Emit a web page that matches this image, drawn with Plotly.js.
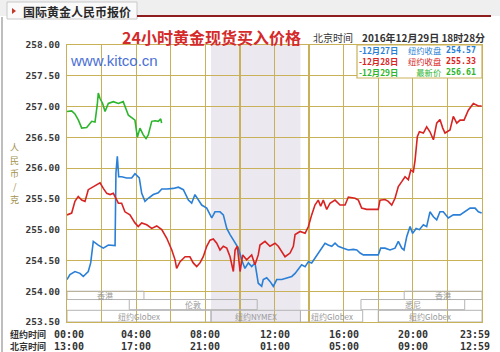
<!DOCTYPE html>
<html>
<head>
<meta charset="utf-8">
<script src="https://cdn.plot.ly/plotly-3.0.1.min.js"></script>
<style>html,body{margin:0;padding:0;background:#fff;}#chart{width:500px;height:352px;}</style>
</head>
<body>
<div id="chart"></div>
<script>
// ---------------- DATA ----------------
// hours in New York time (0 = 00:00 NY = 13:00 Beijing)
const blueName = '12月27日';
const blueHours = [0,0.17,0.46,0.75,0.94,1.23,1.37,1.52,1.81,2.10,2.39,2.68,2.78,2.83,2.91,2.99,3.16,3.45,3.74,3.93,4.18,4.32,4.51,4.70,4.99,5.28,5.48,5.77,6.15,6.44,6.73,7.02,7.21,7.40,7.59,7.79,8.08,8.37,8.56,8.85,9.04,9.24,9.43,9.72,9.91,10.10,10.29,10.49,10.68,10.87,11.06,11.26,11.35,11.55,11.74,11.93,12.13,12.42,12.71,13.00,13.19,13.38,13.57,13.77,13.96,14.15,14.34,14.53,14.73,14.92,15.11,15.31,15.50,15.69,15.98,16.27,16.56,16.76,16.95,17.14,18.00,18.14,18.39,18.68,18.97,19.16,19.36,19.49,19.65,19.84,19.99,20.19,20.38,20.61,20.80,20.99,21.19,21.38,21.57,21.76,22.05,22.34,22.73,23.02,23.31,23.60,23.79,23.98];
const blueValues = [254.19,254.27,254.32,254.29,254.24,254.32,254.46,254.81,254.75,254.70,254.75,254.74,254.74,255.92,256.19,255.86,255.86,255.84,255.84,255.91,255.84,255.59,255.46,255.51,255.57,255.60,255.66,255.66,255.67,255.69,255.65,255.48,255.43,255.57,255.48,255.40,255.35,255.19,255.29,255.29,255.24,255.02,254.92,254.78,254.70,254.51,254.37,254.46,254.40,254.46,254.13,254.08,254.19,254.22,254.16,254.08,254.19,254.19,254.21,254.24,254.29,254.37,254.43,254.40,254.48,254.46,254.54,254.62,254.70,254.78,254.75,254.73,254.78,254.73,254.70,254.67,254.68,254.67,254.62,254.59,254.59,254.70,254.70,254.67,254.70,254.81,254.70,254.67,254.89,255.05,254.94,255.02,255.00,255.08,255.05,255.29,255.21,255.16,255.29,255.29,255.19,255.24,255.24,255.29,255.35,255.35,255.29,255.27];

const redName = '12月28日';
const redHours = [0,0.27,0.46,0.65,0.85,1.04,1.23,1.52,1.72,1.91,2.10,2.30,2.49,2.68,2.83,2.97,3.16,3.35,3.64,3.93,4.12,4.32,4.61,4.90,5.19,5.48,5.77,6.06,6.25,6.34,6.54,6.83,7.11,7.30,7.50,7.69,7.88,8.08,8.27,8.46,8.66,8.85,9.04,9.24,9.43,9.62,9.72,9.85,10.01,10.16,10.39,10.68,10.87,11.06,11.16,11.45,11.74,12.03,12.22,12.42,12.61,12.90,13.09,13.19,13.48,13.77,13.96,14.15,14.34,14.53,14.67,14.82,15.02,15.21,15.50,15.79,16.08,16.27,16.66,16.85,17.04,17.33,18.00,18.10,18.39,18.58,18.78,18.97,19.16,19.36,19.55,19.74,19.88,20.03,20.13,20.26,20.38,20.61,20.80,20.99,21.19,21.38,21.57,21.73,21.86,22.15,22.34,22.54,22.73,22.96,23.21,23.50,23.79,23.98];
const redValues = [255.24,255.27,255.46,255.54,255.48,255.46,255.65,255.70,255.73,255.76,255.67,255.59,255.57,255.59,255.51,255.43,255.43,255.29,255.24,255.11,255.05,255.11,255.08,255.02,255.06,255.00,254.86,254.67,254.51,254.37,254.48,254.56,254.56,254.46,254.40,254.46,254.56,254.73,254.83,254.85,254.78,254.67,254.73,254.70,254.56,254.32,254.67,254.73,254.32,254.59,254.51,254.59,254.43,254.59,254.75,254.81,254.73,254.78,254.73,254.65,254.56,254.62,254.73,254.92,254.97,254.94,255.05,255.24,255.40,255.48,255.38,255.48,255.33,255.43,255.48,255.40,255.40,255.53,255.51,255.48,255.35,255.33,255.33,255.48,255.49,255.46,255.40,255.51,255.70,255.78,255.86,255.81,255.97,255.94,256.13,256.51,256.59,256.57,256.67,256.59,256.46,256.73,256.79,256.65,256.57,256.62,256.84,256.73,256.78,256.78,256.94,257.05,257.01,257.01];

const greenName = '12月29日';
const greenHours = [0,0.27,0.46,0.66,0.85,1.14,1.43,1.62,1.75,1.81,1.91,2.06,2.20,2.39,2.68,2.97,3.25,3.35,3.55,3.74,3.93,4.07,4.22,4.41,4.57,4.70,4.90,5.09,5.28,5.42,5.47];
const greenValues = [256.92,256.93,256.88,256.78,256.65,256.66,256.76,256.75,257.03,257.22,257.13,257.05,256.92,257.05,257.08,257.05,257.08,257.00,256.86,256.82,256.78,256.50,256.65,256.54,256.48,256.54,256.76,256.77,256.76,256.80,256.73];

// legend rows
const legendDates = ['-12月27日','-12月28日','-12月29日'];
const legendKinds = ['纽约收盘','纽约收盘','最新价'];
const legendPrices = ['254.57','255.33','256.61'];

// axis tick labels
const tickHours = [0,4,8,12,16,20,23.98];
const nyTimeLabels = ['00:00','04:00','08:00','12:00','16:00','20:00','23:59'];
const bjTimeLabels = ['13:00','17:00','21:00','01:00','05:00','09:00','12:59'];
const yTitleChars = ['人','民','币','/','克'];

// NYMEX floor session (shaded) in NY hours
const pitSession = [8.33, 13.5];
// market sessions
const sessNames = ['香港','伦敦','纽约Globex','纽约NYMEX','纽约Globex','悉尼','香港','纽约Globex'];
const sessStart = [0, 3.6, 0, 8.33, 13.5, 17.0, 19.5, 18.0];
const sessEnd   = [4.45, 11.0, 8.33, 13.5, 17.1, 23.0, 24, 24];
const sessRow   = [0, 1, 2, 2, 2, 1, 0, 2];

// ---------------- STYLE ----------------
const GRID = '#c9b15a';
const BLUE = '#2a7fd6', RED = '#d82323', GREEN = '#2db52d';
const L = 67, R = 482, T = 45, B = 322;
const PX = p => (p - L) / (R - L);
const PY = p => (B - p) / (B - T);
const rowY = [[253.865, 254.0], [253.70, 253.865], [253.5, 253.69]];
const CJK = '"Noto Sans CJK SC", "Noto Sans", sans-serif';
const MONO = '"DejaVu Sans Mono", monospace';

const traces = [
  {x: blueHours, y: blueValues, name: blueName, mode: 'lines', line: {color: BLUE, width: 1.6}},
  {x: redHours, y: redValues, name: redName, mode: 'lines', line: {color: RED, width: 1.6}},
  {x: greenHours, y: greenValues, name: greenName, mode: 'lines', line: {color: GREEN, width: 1.6}}
];

const shapes = [];
const annotations = [];

// header
shapes.push({type:'rect', xref:'paper', yref:'paper', x0:PX(0), x1:PX(500), y0:PY(0), y1:PY(16), fillcolor:'#efefef', line:{width:0}, layer:'above'});
shapes.push({type:'rect', xref:'paper', yref:'paper', x0:PX(7), x1:PX(137), y0:PY(2), y1:PY(19), fillcolor:'#fafafa', line:{color:'#c8c8c8', width:1}, layer:'above'});
shapes.push({type:'line', xref:'paper', yref:'paper', x0:PX(137), x1:PX(491), y0:PY(16), y1:PY(16), line:{color:'#8e1d1d', width:2}, layer:'above'});
shapes.push({type:'line', xref:'paper', yref:'paper', x0:PX(2), x1:PX(2), y0:PY(17), y1:PY(352), line:{color:'#a8a8a8', width:1.5}, layer:'above'});
shapes.push({type:'path', xref:'paper', yref:'paper', path:'M '+PX(12)+' '+PY(8)+' L '+PX(16)+' '+PY(11)+' L '+PX(12)+' '+PY(14)+' Z', fillcolor:'#c0392b', line:{width:0}, layer:'above'});
annotations.push({xref:'paper', yref:'paper', x:PX(21), y:PY(11), xanchor:'left', yanchor:'middle', text:'<b>国际黄金人民币报价</b>', showarrow:false, font:{family:CJK, size:12, color:'#2a2a2a'}});

// title row
annotations.push({xref:'paper', yref:'paper', x:PX(211), y:PY(37), xanchor:'center', yanchor:'middle', text:'<b>24小时黄金现货买入价格</b>', showarrow:false, font:{family:CJK, size:16, color:'#d42a2a'}});
annotations.push({xref:'paper', yref:'paper', x:PX(312), y:PY(37), xanchor:'left', yanchor:'middle', borderpad:0, text:'北京时间', showarrow:false, font:{family:CJK, size:10, color:'#333'}});
annotations.push({xref:'paper', yref:'paper', x:PX(361), y:PY(37), xanchor:'left', yanchor:'middle', borderpad:0, text:'<b>2016年12月29日 18时28分</b>', showarrow:false, font:{family:CJK, size:10, color:'#333'}});

// watermark
annotations.push({xref:'paper', yref:'paper', x:PX(68), y:PY(60), xanchor:'left', yanchor:'middle', text:'www.kitco.cn', showarrow:false, font:{family:'"Liberation Sans", Arial, sans-serif', size:15, color:'#4a6fd6'}});

// shaded pit session
shapes.push({type:'rect', xref:'x', yref:'paper', x0:pitSession[0], x1:pitSession[1], y0:0, y1:1, fillcolor:'#ebe8ef', line:{width:0}, layer:'below'});

// sessions
for (let i = 0; i < sessNames.length; i++) {
  const yr = rowY[sessRow[i]];
  shapes.push({type:'rect', xref:'x', yref:'y', x0:sessStart[i], x1:sessEnd[i], y0:yr[0], y1:yr[1], line:{color:'#b4b4b4', width:1}, fillcolor:'rgba(0,0,0,0)', layer:'above'});
  annotations.push({xref:'x', yref:'y', x:(sessStart[i]+sessEnd[i])/2, y:(yr[0]+yr[1])/2, text:sessNames[i], showarrow:false, xanchor:'center', yanchor:'middle', borderpad:0, font:{family:CJK, size:8, color:'#9a9a9a'}});
}

// legend box: three column texts, each with three coloured lines
shapes.push({type:'rect', xref:'paper', yref:'paper', x0:PX(357), x1:PX(482), y0:PY(78), y1:PY(45), fillcolor:'#ffffff', line:{color:GRID, width:1.2}, layer:'above'});
const legColors = [BLUE, RED, GREEN];
const colText = (arr, bold) => arr.map((t, i) => '<span style="color:' + legColors[i] + '">' + (bold ? '<b>' + t + '</b>' : t) + '</span>').join('<br>');
annotations.push({xref:'paper', yref:'paper', x:PX(358), y:PY(61.5), xanchor:'left', yanchor:'middle', align:'left', borderpad:0, text:colText(legendDates, true), showarrow:false, font:{family:CJK, size:8.3, color:BLUE}});
annotations.push({xref:'paper', yref:'paper', x:PX(443), y:PY(61.5), xanchor:'right', yanchor:'middle', align:'right', borderpad:0, text:colText(legendKinds, false), showarrow:false, font:{family:CJK, size:8.3, color:BLUE}});
annotations.push({xref:'paper', yref:'paper', x:PX(445), y:PY(61.5), xanchor:'left', yanchor:'middle', align:'left', borderpad:0, text:colText(legendPrices, true), showarrow:false, font:{family:MONO, size:8.3, color:BLUE}});

// y axis title (vertical stacked characters)
yTitleChars.forEach((c, i) => {
  annotations.push({xref:'paper', yref:'paper', x:PX(15), y:PY(147 + i*13), xanchor:'center', yanchor:'middle', text:c, showarrow:false, borderpad:0, font:{family:CJK, size:9, color:'#a3934e'}});
});

// bottom time labels
annotations.push({xref:'paper', yref:'paper', x:PX(9), y:PY(334), xanchor:'left', yanchor:'middle', borderpad:0, text:'<b>纽约时间</b>', showarrow:false, font:{family:CJK, size:9, color:'#333'}});
annotations.push({xref:'paper', yref:'paper', x:PX(9), y:PY(346.5), xanchor:'left', yanchor:'middle', borderpad:0, text:'<b>北京时间</b>', showarrow:false, font:{family:CJK, size:9, color:'#333'}});
tickHours.forEach((h, i) => {
  const shift = (i === 0) ? 2 : (i === tickHours.length - 1) ? -7 : 0;
  annotations.push({xref:'x', yref:'paper', x:h, y:PY(334), xanchor:'center', yanchor:'middle', xshift:shift, borderpad:0, text:'<b>'+nyTimeLabels[i]+'</b>', showarrow:false, font:{family:MONO, size:10, color:'#333'}});
  annotations.push({xref:'x', yref:'paper', x:h, y:PY(346.5), xanchor:'center', yanchor:'middle', xshift:shift, borderpad:0, text:'<b>'+bjTimeLabels[i]+'</b>', showarrow:false, font:{family:MONO, size:10, color:'#333'}});
});

const layout = {
  width: 500, height: 352,
  margin: {l: L, r: 500 - R, t: T, b: 352 - B, pad: 0},
  paper_bgcolor: '#ffffff', plot_bgcolor: '#ffffff',
  showlegend: false,
  xaxis: {range: [0, 24], tick0: 0, dtick: 2, showgrid: true, gridcolor: GRID, gridwidth: 1.2,
          showticklabels: false, ticks: '', zeroline: false, showline: true, mirror: true, linecolor: GRID, linewidth: 1.2, fixedrange: true},
  yaxis: {range: [253.5, 258], tick0: 253.5, dtick: 0.5, tickformat: '.2f', showgrid: true, gridcolor: GRID, gridwidth: 1.2,
          ticks: '', ticklabelstandoff: 4, zeroline: false, showline: true, mirror: true, linecolor: GRID, linewidth: 1.2,
          tickfont: {family: MONO, size: 9.5, color: '#3a3a3a', weight: 'bold'}, fixedrange: true},
  shapes: shapes,
  annotations: annotations
};

Plotly.newPlot('chart', traces, layout, {staticPlot: true, displayModeBar: false});
</script>
</body>
</html>
